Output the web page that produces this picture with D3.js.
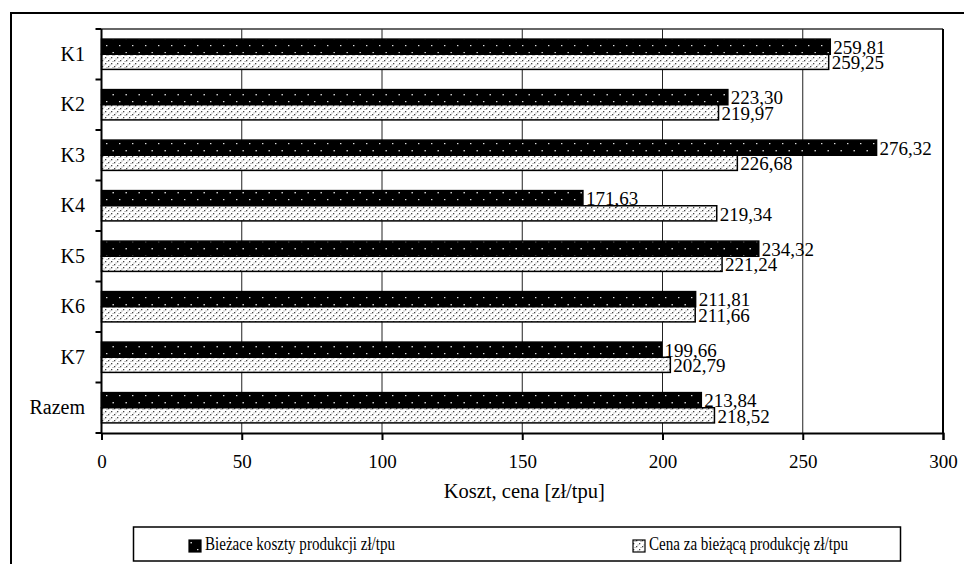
<!DOCTYPE html>
<html><head><meta charset="utf-8">
<script src="https://cdn.jsdelivr.net/npm/d3@7"></script>
<style>body{margin:0;background:#fff}svg{display:block}</style>
</head><body><svg id="c" width="964" height="564"></svg>
<script>
const categories = ["K1","K2","K3","K4","K5","K6","K7","Razem"];
const seriesNames = ["Bieżace koszty produkcji zł/tpu","Cena za bieżącą produkcję zł/tpu"];
const costs = [259.81,223.30,276.32,171.63,234.32,211.81,199.66,213.84];
const prices = [259.25,219.97,226.68,219.34,221.24,211.66,202.79,218.52];
const xTicks = [0,50,100,150,200,250,300];

const FONT = '"Liberation Serif"';
const svg = d3.select("#c");
const m = {l:101.5, r:943, t:29, b:433};
const defs = svg.append("defs");
// black with white dots
const p1 = defs.append("pattern").attr("id","pBlack").attr("patternUnits","userSpaceOnUse").attr("width",13).attr("height",14);
p1.append("rect").attr("width",13).attr("height",14).attr("fill","#000");
p1.append("rect").attr("x",2).attr("y",3).attr("width",1.4).attr("height",1.2).attr("fill","#ddd");
p1.append("rect").attr("x",8.5).attr("y",10).attr("width",1.4).attr("height",1.4).attr("fill","#ddd");
// white with dense dark dots
const p2 = defs.append("pattern").attr("id","pDots").attr("patternUnits","userSpaceOnUse").attr("width",6).attr("height",6);
p2.append("rect").attr("width",6).attr("height",6).attr("fill","#fff");
p2.append("rect").attr("x",0).attr("y",0).attr("width",1.3).attr("height",1.3).attr("fill","#444");
p2.append("rect").attr("x",3).attr("y",3).attr("width",1.3).attr("height",1.3).attr("fill","#444");
p2.append("rect").attr("x",4.5).attr("y",1).attr("width",1).attr("height",1).attr("fill","#888");
p2.append("rect").attr("x",1.5).attr("y",4.5).attr("width",1).attr("height",1).attr("fill","#888");
const fills = ["url(#pBlack)","url(#pDots)"];

// outer border (right edge extends beyond the picture)
svg.append("rect").attr("x",11).attr("y",13).attr("width",980).attr("height",600)
  .attr("fill","none").attr("stroke","#000").attr("stroke-width",2);

const x = d3.scaleLinear().domain([0,300]).range([m.l,m.r]);
const y = d3.scaleBand().domain(categories).range([m.t,m.b]).paddingInner(0.4).paddingOuter(0.2);
const ys = d3.scaleBand().domain([0,1]).range([0,y.bandwidth()]);

// gridlines
svg.append("g").selectAll("line").data(xTicks.filter(d=>d>0&&d<300)).join("line")
  .attr("x1",d=>x(d)).attr("x2",d=>x(d)).attr("y1",m.t).attr("y2",m.b)
  .attr("stroke","#222").attr("stroke-width",1);
// plot frame top and right
svg.append("line").attr("x1",m.l).attr("x2",m.r).attr("y1",m.t).attr("y2",m.t).attr("stroke","#333").attr("stroke-width",1.5);
svg.append("line").attr("x1",m.r).attr("x2",m.r).attr("y1",m.t).attr("y2",m.b).attr("stroke","#000").attr("stroke-width",2);

// bars
const data = categories.map((c,i)=>({c, v:[costs[i],prices[i]]}));
const g = svg.append("g");
data.forEach(d=>{
  d.v.forEach((v,s)=>{
    const yy = y(d.c)+ys(s);
    g.append("rect").attr("x",x(0)).attr("y",yy).attr("width",x(v)-x(0)).attr("height",ys.bandwidth())
      .attr("fill",fills[s]).attr("stroke","#000").attr("stroke-width",1.5);
  });
});
data.forEach(d=>{
  d.v.forEach((v,s)=>{
    const yy = y(d.c)+ys(s);
    g.append("text").attr("x",x(v)+3).attr("y",yy+ys.bandwidth()/2).attr("dy","0.38em")
      .style("font-family",FONT).style("font-size","19px").attr("fill","#000")
      .text(v.toFixed(2).replace(".",","));
  });
});

// axes
const xa = svg.append("g").attr("transform",`translate(0,${m.b})`)
  .call(d3.axisBottom(x).tickValues(xTicks).tickSize(7).tickPadding(15).tickFormat(d=>d));
xa.select(".domain").attr("stroke","#000").attr("stroke-width",2);
xa.selectAll(".tick line").attr("stroke","#000").attr("stroke-width",2);
xa.selectAll("text").style("font-size","19px").style("font-family",FONT).attr("fill","#000");

// y axis
const ya = svg.append("g");
ya.append("line").attr("x1",m.l).attr("x2",m.l).attr("y1",m.t).attr("y2",m.b).attr("stroke","#000").attr("stroke-width",2);
const yTickPos = d3.range(categories.length+1).map(i=>m.t + (m.b-m.t)*i/categories.length);
ya.selectAll("line.t").data(yTickPos).join("line").attr("class","t")
  .attr("x1",m.l-6).attr("x2",m.l).attr("y1",d=>d).attr("y2",d=>d).attr("stroke","#000").attr("stroke-width",2);
ya.selectAll("text").data(categories).join("text")
  .attr("x",85).attr("y",d=>y(d)+y.bandwidth()/2).attr("dy","0.33em").attr("text-anchor","end")
  .style("font-family",FONT).style("font-size","20px").text(d=>d);

// axis title
svg.append("text").attr("x",(m.l+m.r)/2+2).attr("y",498).attr("text-anchor","middle")
  .style("font-family",FONT).style("font-size","20.5px").text("Koszt, cena [zł/tpu]");

// legend
svg.append("rect").attr("x",133.5).attr("y",527).attr("width",767).attr("height",34)
  .attr("fill","#fff").attr("stroke","#000").attr("stroke-width",1.5);
const legX = [189,633];
seriesNames.forEach((n,i)=>{
  svg.append("rect").attr("x",legX[i]).attr("y",540).attr("width",12).attr("height",12)
    .attr("fill",fills[i]).attr("stroke","#000").attr("stroke-width",1.2);
  svg.append("text").attr("x",legX[i]+16).attr("y",550)
    .style("font-family",FONT).style("font-size","19px").attr("textLength", i===0?190:199).attr("lengthAdjust","spacingAndGlyphs").text(n);
});
</script></body></html>
